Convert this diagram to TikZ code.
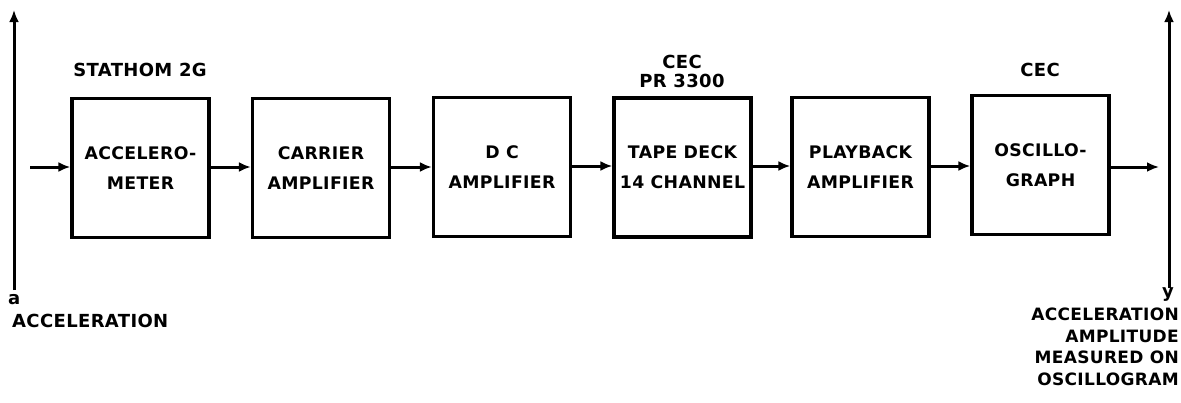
\documentclass[tikz,border=0pt]{standalone}
\usepackage{fontspec}
\setmainfont{DejaVu Sans}[LetterSpace=2]
\usetikzlibrary{arrows.meta}
\begin{document}
\begin{tikzpicture}[x=1pt,y=-1pt,
  lbl/.style={font=\fontsize{18}{19}\selectfont\bfseries, inner sep=0pt, align=center},
  blk/.style={draw, line width=3.2pt, minimum width=137pt, minimum height=139pt, inner sep=0pt,
    align=center, font=\fontsize{17.3}{30}\selectfont\bfseries},
  conn/.style={line width=3pt, -{Latex[length=12pt,width=10pt]}}]
\useasboundingbox (0,0) rectangle (1181,402);
\node[blk] (b1) at (140.5,168) {ACCELERO-\\METER};
\node[blk] (b2) at (321,168) {CARRIER\\AMPLIFIER};
\node[blk] (b3) at (502,167) {D C\\AMPLIFIER};
\node[blk] (b4) at (682.5,167.5) {TAPE DECK\\14 CHANNEL};
\node[blk] (b5) at (860.5,167) {PLAYBACK\\AMPLIFIER};
\node[blk] (b6) at (1040.5,165) {OSCILLO-\\GRAPH};
\node[lbl] (t1) at (140,70) {STATHOM 2G};
\node[lbl] (t4) at (682,71) {CEC\\PR 3300};
\node[lbl] (t6) at (1040,70) {CEC};
\coordinate (inL) at (30,167);
\coordinate (outR) at (1159,167);
\draw[conn] (inL) -- (b1.west |- inL);
\draw[conn] (b1.east |- 0,167) -- (b2.west |- 0,167);
\draw[conn] (b2.east |- 0,167) -- (b3.west |- 0,167);
\draw[conn] (b3.east |- 0,166) -- (b4.west |- 0,166);
\draw[conn] (b4.east |- 0,166) -- (b5.west |- 0,166);
\draw[conn] (b5.east |- 0,166) -- (b6.west |- 0,166);
\draw[conn] (b6.east |- outR) -- (outR);
\coordinate (aBot) at (14,290);
\coordinate (aTop) at (14,10);
\coordinate (yBot) at (1169,288);
\coordinate (yTop) at (1169,10);
\draw[conn] (aBot) -- (aTop);
\draw[conn] (yBot) -- (yTop);
\node[lbl, anchor=west] (la) at (8,300) {a};
\node[lbl, anchor=west] (lacc) at (12,321) {ACCELERATION};
\node[lbl, anchor=east] (ly) at (1174,295) {y};
\node[lbl, anchor=north east, align=right, font=\fontsize{17}{21.5}\selectfont\bfseries] (lout) at (1179,308) {ACCELERATION\\AMPLITUDE\\MEASURED ON\\OSCILLOGRAM};
\end{tikzpicture}
\end{document}
